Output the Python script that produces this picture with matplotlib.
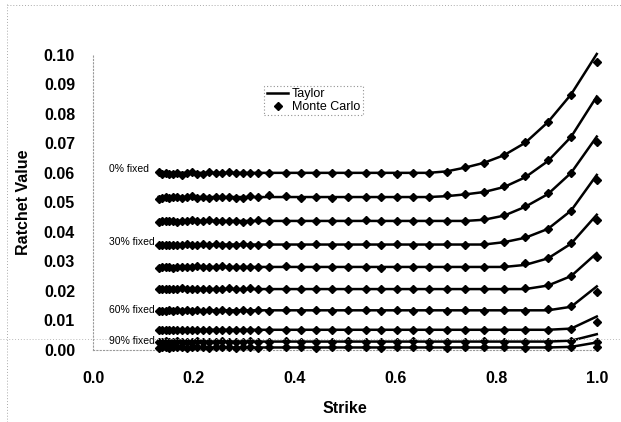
import matplotlib
matplotlib.use("Agg")
import matplotlib.pyplot as plt
from matplotlib.lines import Line2D

plt.rcParams['font.family'] = ['Liberation Sans', 'DejaVu Sans']

strike = [0.130, 0.137, 0.144, 0.151, 0.159, 0.167, 0.176, 0.186, 0.196, 0.207,
          0.219, 0.231, 0.243, 0.256, 0.269, 0.283, 0.297, 0.312, 0.328, 0.350,
          0.382, 0.413, 0.443, 0.474, 0.506, 0.542, 0.571, 0.603, 0.635, 0.666,
          0.702, 0.739, 0.776, 0.816, 0.858, 0.903, 0.949, 1.000]

taylor_0 = [0.0600] * 30 + [0.0605, 0.0618, 0.0634, 0.0660, 0.0702, 0.0772, 0.0866, 0.1003]
taylor_10 = [0.0518] * 30 + [0.0521, 0.0527, 0.0535, 0.0552, 0.0585, 0.0640, 0.0722, 0.0859]
taylor_20 = [0.0437] * 32 + [0.0441, 0.0455, 0.0485, 0.0528, 0.0600, 0.0723]
taylor_30 = [0.0357] * 33 + [0.0365, 0.0380, 0.0410, 0.0472, 0.0593]
taylor_40 = [0.0281] * 34 + [0.0288, 0.0310, 0.0360, 0.0458]
taylor_50 = [0.0206] * 35 + [0.0218, 0.0250, 0.0328]
taylor_60 = [0.0134] * 36 + [0.0146, 0.0215]
taylor_70 = [0.0068] * 36 + [0.0072, 0.0113]
taylor_80 = [0.0028] * 36 + [0.0031, 0.0053]
taylor_90 = [0.0008] * 36 + [0.0010, 0.0025]

mc_0 = [0.0603, 0.0596, 0.0598, 0.0595, 0.0597, 0.0601, 0.0594, 0.0599, 0.0602, 0.0597,
        0.0596, 0.0603, 0.0598, 0.0601, 0.0604, 0.0600, 0.0601, 0.0598, 0.0599, 0.0600,
        0.0598, 0.0600, 0.0599, 0.0600, 0.0601, 0.0600, 0.0599, 0.0597, 0.0600, 0.0599,
        0.0602, 0.0620, 0.0633, 0.0662, 0.0703, 0.0774, 0.0864, 0.0977]
mc_10 = [0.0513, 0.0516, 0.0519, 0.0515, 0.0517, 0.0519, 0.0516, 0.0518, 0.0520, 0.0516,
         0.0519, 0.0515, 0.0518, 0.0517, 0.0519, 0.0516, 0.0514, 0.0520, 0.0519, 0.0524,
         0.0522, 0.0516, 0.0518, 0.0515, 0.0518, 0.0517, 0.0519, 0.0518, 0.0517, 0.0518,
         0.0526, 0.0528, 0.0536, 0.0555, 0.0588, 0.0644, 0.0720, 0.0847]
mc_20 = [0.0435, 0.0438, 0.0436, 0.0438, 0.0437, 0.0435, 0.0438, 0.0436, 0.0439, 0.0437,
         0.0436, 0.0440, 0.0437, 0.0436, 0.0438, 0.0437, 0.0435, 0.0438, 0.0439, 0.0438,
         0.0436, 0.0438, 0.0437, 0.0438, 0.0437, 0.0439, 0.0436, 0.0438, 0.0437, 0.0438,
         0.0438, 0.0437, 0.0442, 0.0456, 0.0487, 0.0530, 0.0598, 0.0706]
mc_30 = [0.0356, 0.0355, 0.0357, 0.0356, 0.0355, 0.0357, 0.0356, 0.0358, 0.0356, 0.0357,
         0.0359, 0.0356, 0.0358, 0.0357, 0.0356, 0.0357, 0.0358, 0.0357, 0.0356, 0.0358,
         0.0357, 0.0356, 0.0358, 0.0357, 0.0355, 0.0358, 0.0357, 0.0359, 0.0356, 0.0357,
         0.0358, 0.0357, 0.0360, 0.0366, 0.0382, 0.0409, 0.0472, 0.0576]
mc_40 = [0.0279, 0.0281, 0.0280, 0.0282, 0.0279, 0.0281, 0.0280, 0.0282, 0.0281, 0.0283,
         0.0280, 0.0282, 0.0281, 0.0283, 0.0281, 0.0282, 0.0280, 0.0281, 0.0282, 0.0281,
         0.0283, 0.0281, 0.0282, 0.0281, 0.0280, 0.0282, 0.0278, 0.0281, 0.0282, 0.0281,
         0.0282, 0.0281, 0.0282, 0.0285, 0.0293, 0.0311, 0.0362, 0.0441]
mc_50 = [0.0205, 0.0207, 0.0206, 0.0205, 0.0207, 0.0206, 0.0208, 0.0206, 0.0205, 0.0207,
         0.0206, 0.0205, 0.0207, 0.0206, 0.0208, 0.0207, 0.0206, 0.0208, 0.0206, 0.0207,
         0.0205, 0.0206, 0.0207, 0.0206, 0.0205, 0.0207, 0.0206, 0.0207, 0.0205, 0.0206,
         0.0207, 0.0206, 0.0205, 0.0207, 0.0209, 0.0220, 0.0249, 0.0314]
mc_60 = [0.0132, 0.0133, 0.0132, 0.0134, 0.0133, 0.0135, 0.0133, 0.0134, 0.0132, 0.0134,
         0.0133, 0.0135, 0.0133, 0.0134, 0.0133, 0.0132, 0.0134, 0.0133, 0.0135, 0.0133,
         0.0134, 0.0132, 0.0134, 0.0133, 0.0134, 0.0135, 0.0133, 0.0134, 0.0133, 0.0134,
         0.0133, 0.0134, 0.0133, 0.0134, 0.0133, 0.0138, 0.0149, 0.0195]
mc_70 = [0.0066, 0.0067, 0.0066, 0.0068, 0.0067, 0.0066, 0.0068, 0.0067, 0.0068, 0.0066,
         0.0067, 0.0068, 0.0067, 0.0066, 0.0068, 0.0067, 0.0068, 0.0066, 0.0067, 0.0068,
         0.0066, 0.0067, 0.0068, 0.0066, 0.0067, 0.0068, 0.0067, 0.0066, 0.0068, 0.0067,
         0.0068, 0.0067, 0.0066, 0.0068, 0.0067, 0.0068, 0.0070, 0.0096]
mc_80 = [0.0027, 0.0028, 0.0029, 0.0027, 0.0028, 0.0029, 0.0028, 0.0027, 0.0028, 0.0029,
         0.0028, 0.0027, 0.0028, 0.0029, 0.0028, 0.0027, 0.0028, 0.0029, 0.0027, 0.0028,
         0.0029, 0.0028, 0.0027, 0.0028, 0.0029, 0.0028, 0.0027, 0.0028, 0.0029, 0.0028,
         0.0027, 0.0028, 0.0029, 0.0028, 0.0027, 0.0028, 0.0030, 0.0026]
mc_90 = [0.0007, 0.0008, 0.0009, 0.0007, 0.0008, 0.0009, 0.0008, 0.0007, 0.0008, 0.0009,
         0.0008, 0.0007, 0.0008, 0.0009, 0.0008, 0.0007, 0.0008, 0.0009, 0.0007, 0.0008,
         0.0009, 0.0008, 0.0007, 0.0008, 0.0009, 0.0008, 0.0007, 0.0008, 0.0009, 0.0008,
         0.0007, 0.0008, 0.0009, 0.0008, 0.0007, 0.0008, 0.0009, 0.0011]

taylor_rows = [taylor_0, taylor_10, taylor_20, taylor_30, taylor_40,
               taylor_50, taylor_60, taylor_70, taylor_80, taylor_90]
mc_rows = [mc_0, mc_10, mc_20, mc_30, mc_40, mc_50, mc_60, mc_70, mc_80, mc_90]

row_labels = ["0% fixed", "30% fixed", "60% fixed", "90% fixed"]
label_y = [0.0612, 0.0364, 0.0135, 0.0030]

x_ticks = [0.0, 0.2, 0.4, 0.6, 0.8, 1.0]
y_ticks = [0.00, 0.01, 0.02, 0.03, 0.04, 0.05, 0.06, 0.07, 0.08, 0.09, 0.10]

fig = plt.figure(figsize=(6.21, 4.22), dpi=100)
ax = fig.add_axes([0.150, 0.171, 0.811, 0.699])

for t, m in zip(taylor_rows, mc_rows):
    ax.plot(strike, t, color='black', lw=1.8, zorder=3, clip_on=False)
    ax.plot(strike, m, linestyle='none', marker='D', ms=3.8, color='black',
            zorder=4, clip_on=False)

for lab, yv in zip(row_labels, label_y):
    ax.text(0.032, yv, lab, fontsize=7.5, ha='left', va='center', color='black')

ax.set_xlim(0, 1.0)
ax.set_ylim(0, 0.10)
ax.set_xticks(x_ticks)
ax.set_xticklabels([f"{v:.1f}" for v in x_ticks])
ax.set_yticks(y_ticks)
ax.set_yticklabels([f"{v:.2f}" for v in y_ticks])
ax.tick_params(axis='both', length=0, labelsize=11.5)
ax.tick_params(axis='x', pad=15)
ax.tick_params(axis='y', pad=13)
for lbl in ax.get_xticklabels() + ax.get_yticklabels():
    lbl.set_fontweight('bold')

for s in ['top', 'right']:
    ax.spines[s].set_visible(False)
for s in ['left', 'bottom']:
    ax.spines[s].set_linestyle((0, (1, 2)))
    ax.spines[s].set_color('#999999')
    ax.spines[s].set_linewidth(0.8)

ax.set_xlabel("Strike", fontsize=11.5, fontweight='bold', labelpad=11)
ax.set_ylabel("Ratchet Value", fontsize=11.5, fontweight='bold', labelpad=9)

handles = [Line2D([], [], color='black', lw=1.8),
           Line2D([], [], color='black', marker='D', ms=3.8, linestyle='none')]
leg = ax.legend(handles, ["Taylor", "Monte Carlo"], loc='upper left',
                bbox_to_anchor=(0.340, 0.895), fontsize=9, frameon=True,
                fancybox=False, handlelength=1.7, handletextpad=0.3,
                borderpad=0.2, labelspacing=0.05, borderaxespad=0.0)
fr = leg.get_frame()
fr.set_edgecolor('#777777')
fr.set_linestyle((0, (1, 2)))
fr.set_linewidth(0.8)

# scan-like dotted border lines
fig.add_artist(Line2D([0.011, 0.011], [0.0, 0.99], transform=fig.transFigure,
                      color='#aaaaaa', lw=0.7, linestyle=(0, (1, 2))))
fig.add_artist(Line2D([0.011, 1.0], [0.988, 0.988], transform=fig.transFigure,
                      color='#aaaaaa', lw=0.7, linestyle=(0, (1, 2))))
fig.add_artist(Line2D([0.0, 1.0], [0.197, 0.197], transform=fig.transFigure,
                      color='#bbbbbb', lw=0.7, linestyle=(0, (1, 2))))

fig.savefig("out.png", dpi=100)
